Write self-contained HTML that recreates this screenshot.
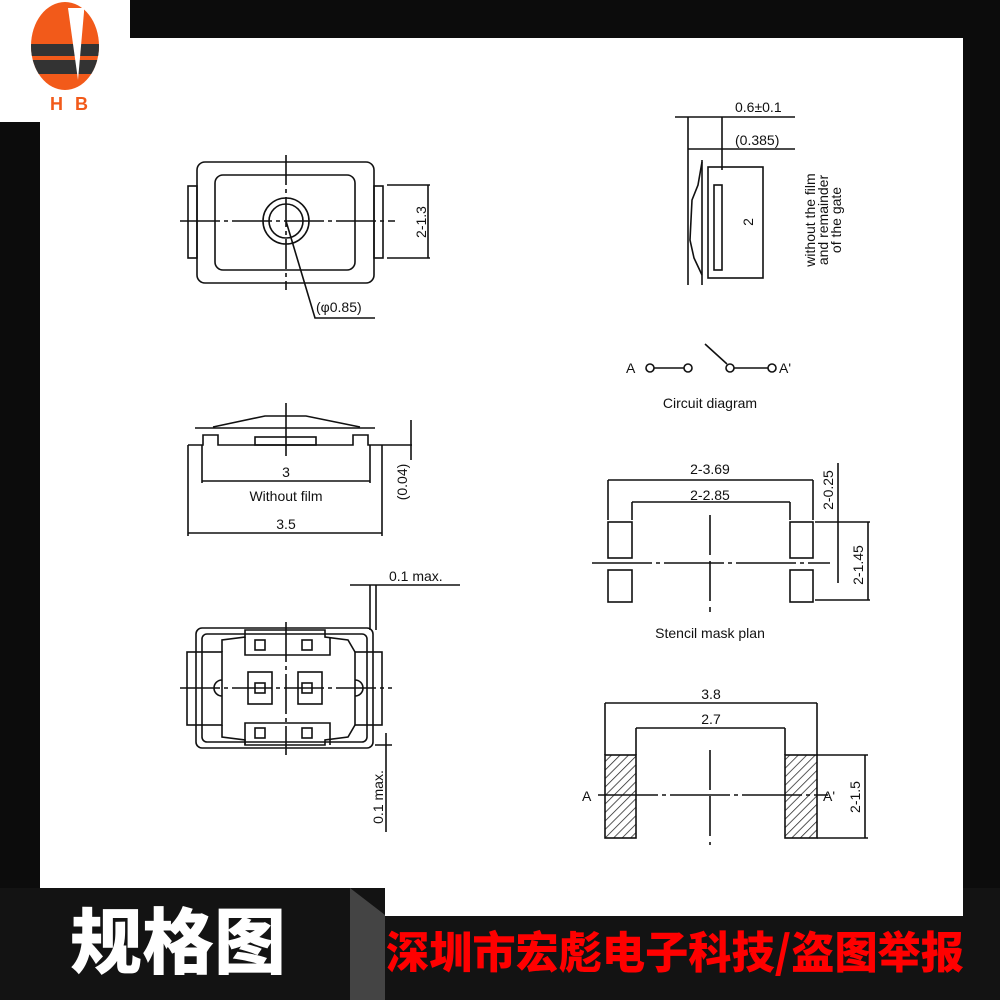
<!DOCTYPE html>
<html><head><meta charset="utf-8"><style>
body{margin:0;background:#0c0c0c;}
svg{display:block}
text{font-family:"Liberation Sans",sans-serif;fill:#111}
</style></head><body>
<svg width="1000" height="1000" viewBox="0 0 1000 1000" xmlns="http://www.w3.org/2000/svg">
<defs>
<pattern id="h" width="6" height="6" patternUnits="userSpaceOnUse" patternTransform="rotate(45)">
<line x1="0" y1="0" x2="0" y2="6" stroke="#222" stroke-width="1.5"/>
</pattern>
<clipPath id="lc"><ellipse cx="65" cy="46" rx="34" ry="44"/></clipPath>
</defs>
<rect width="1000" height="1000" fill="#0c0c0c"/>
<rect x="0" y="888" width="1000" height="112" fill="#131313"/>
<rect x="40" y="38" width="923" height="850" fill="#fff"/>
<rect x="385" y="880" width="578" height="36" fill="#fff"/>
<rect x="0" y="0" width="130" height="122" fill="#fff"/>
<polygon points="350,888 385,915 385,1000 350,1000" fill="#444"/>
<text x="70" y="968" style="font-family:'Noto Sans CJK SC',sans-serif;font-weight:900;font-size:72px;fill:#fff">规格图</text>
<text x="386" y="968" textLength="578" lengthAdjust="spacingAndGlyphs" style="font-family:'Noto Sans CJK SC',sans-serif;font-weight:900;font-size:44px;fill:#f00">深圳市宏彪电子科技/盗图举报</text>
<!-- logo -->
<g clip-path="url(#lc)">
<rect x="30" y="0" width="70" height="95" fill="#f25a1a"/>
<rect x="30" y="44" width="70" height="12" fill="#333"/>
<rect x="30" y="60" width="70" height="14" fill="#333"/>
</g>
<polygon points="68,8 84,8 84,12 78,80" fill="#fff"/>
<text x="50" y="110" style="font-size:18px;font-weight:bold;fill:#f25a1a;letter-spacing:12px">HB</text>

<g fill="none" stroke="#111" stroke-width="1.6">
<rect x="197" y="162" width="177" height="121" rx="8"/>
<rect x="215" y="175" width="140" height="95" rx="8"/>
<rect x="188" y="186" width="9" height="72"/>
<rect x="374" y="186" width="9" height="72"/>
<circle cx="286" cy="221" r="23"/>
<circle cx="286" cy="221" r="17"/>
<line x1="286" y1="155" x2="286" y2="290" stroke-dasharray="30,4,4,4"/>
<line x1="180" y1="221" x2="395" y2="221" stroke-dasharray="40,4,4,4"/>
<line x1="387" y1="185" x2="430" y2="185"/><line x1="387" y1="258" x2="430" y2="258"/>
<line x1="428" y1="185" x2="428" y2="258"/>
<polyline points="286,221 315,318 375,318"/>
<line x1="195" y1="428" x2="375" y2="428"/>
<polyline points="213,427 265,416 306,416 360,427"/>
<polyline points="188,445 203,445 203,435 218,435 218,445 353,445 353,435 368,435 368,445 412,445"/>
<rect x="255" y="437" width="61" height="8"/>
<line x1="286" y1="403" x2="286" y2="456"/>
<line x1="202" y1="445" x2="202" y2="483"/><line x1="370" y1="445" x2="370" y2="483"/>
<line x1="202" y1="481" x2="370" y2="481"/>
<line x1="188" y1="445" x2="188" y2="536"/><line x1="382" y1="445" x2="382" y2="536"/>
<line x1="188" y1="533" x2="382" y2="533"/>
<line x1="411" y1="420" x2="411" y2="460"/>
<rect x="196" y="628" width="177" height="120" rx="6"/>
<rect x="202" y="634" width="165" height="108" rx="5"/>
<rect x="187" y="652" width="35" height="73"/>
<rect x="355" y="652" width="27" height="73"/>
<path d="M222 680 a8 8 0 0 0 0 16"/><path d="M355 680 a8 8 0 0 1 0 16"/>
<polyline points="222,652 222,640 245,637 245,630 325,630 325,637 348,640 355,652"/>
<polyline points="222,725 222,737 245,740 245,745 325,745 325,740 348,737 355,725"/>
<polyline points="245,637 245,655 330,655 330,637"/>
<polyline points="245,745 245,723 330,723 330,745"/>
<rect x="248" y="672" width="24" height="32"/><rect x="298" y="672" width="24" height="32"/>
<rect x="255" y="640" width="10" height="10"/><rect x="302" y="640" width="10" height="10"/>
<rect x="255" y="728" width="10" height="10"/><rect x="302" y="728" width="10" height="10"/>
<rect x="255" y="683" width="10" height="10"/><rect x="302" y="683" width="10" height="10"/>
<line x1="286" y1="622" x2="286" y2="755" stroke-dasharray="40,4,4,4"/>
<line x1="180" y1="688" x2="392" y2="688" stroke-dasharray="40,4,4,4"/>
<line x1="350" y1="585" x2="460" y2="585"/>
<line x1="370" y1="585" x2="370" y2="630"/><line x1="376" y1="585" x2="376" y2="630"/>
<line x1="386" y1="733" x2="386" y2="832"/>
<line x1="375" y1="745" x2="392" y2="745"/>
<line x1="675" y1="117" x2="795" y2="117"/>
<line x1="688" y1="149" x2="795" y2="149"/>
<line x1="688" y1="117" x2="688" y2="285"/>
<line x1="722" y1="117" x2="722" y2="170"/>
<rect x="708" y="167" width="55" height="111"/>
<rect x="714" y="185" width="8" height="85"/>
<line x1="702" y1="160" x2="702" y2="285"/>
<polyline points="702,162 698,185 692,200 690,240 694,258 702,275"/>
<circle cx="650" cy="368" r="4"/><circle cx="688" cy="368" r="4"/>
<line x1="654" y1="368" x2="684" y2="368"/>
<line x1="705" y1="344" x2="727" y2="364"/>
<circle cx="730" cy="368" r="4"/><circle cx="772" cy="368" r="4"/>
<line x1="734" y1="368" x2="768" y2="368"/>
<line x1="608" y1="480" x2="813" y2="480"/>
<line x1="608" y1="480" x2="608" y2="520"/><line x1="813" y1="480" x2="813" y2="520"/>
<line x1="632" y1="502" x2="790" y2="502"/>
<line x1="632" y1="502" x2="632" y2="520"/><line x1="790" y1="502" x2="790" y2="520"/>
<rect x="608" y="522" width="24" height="36"/><rect x="790" y="522" width="23" height="36"/>
<rect x="608" y="570" width="24" height="32"/><rect x="790" y="570" width="23" height="32"/>
<line x1="592" y1="563" x2="830" y2="563" stroke-dasharray="60,4,4,4"/>
<line x1="710" y1="515" x2="710" y2="612" stroke-dasharray="40,6"/>
<line x1="838" y1="463" x2="838" y2="583"/>
<line x1="815" y1="522" x2="870" y2="522"/><line x1="815" y1="600" x2="870" y2="600"/>
<line x1="868" y1="522" x2="868" y2="600"/>
<line x1="605" y1="703" x2="817" y2="703"/>
<line x1="605" y1="703" x2="605" y2="755"/><line x1="817" y1="703" x2="817" y2="755"/>
<line x1="636" y1="728" x2="785" y2="728"/>
<line x1="636" y1="728" x2="636" y2="755"/><line x1="785" y1="728" x2="785" y2="755"/>
<rect x="605" y="755" width="31" height="83" fill="url(#h)"/>
<rect x="785" y="755" width="32" height="83" fill="url(#h)"/>
<line x1="598" y1="795" x2="828" y2="795" stroke-dasharray="60,4,4,4"/>
<line x1="710" y1="750" x2="710" y2="845" stroke-dasharray="40,6"/>
<line x1="817" y1="755" x2="868" y2="755"/><line x1="817" y1="838" x2="868" y2="838"/>
<line x1="865" y1="755" x2="865" y2="838"/>
</g>
<g style="font-size:14px">
<text x="421" y="222" text-anchor="middle" transform="rotate(-90 421 222)" dy="5">2-1.3</text>
<text x="316" y="312">(φ0.85)</text>
<text x="286" y="477" text-anchor="middle">3</text>
<text x="286" y="501" text-anchor="middle">Without film</text>
<text x="286" y="529" text-anchor="middle">3.5</text>
<text x="402" y="482" text-anchor="middle" transform="rotate(-90 402 482)" dy="5">(0.04)</text>
<text x="389" y="581">0.1 max.</text>
<text x="378" y="797" text-anchor="middle" transform="rotate(-90 378 797)" dy="5">0.1 max.</text>
<text x="735" y="112">0.6±0.1</text>
<text x="735" y="145">(0.385)</text>
<text x="748" y="222" text-anchor="middle" transform="rotate(-90 748 222)" dy="5">2</text>
<text x="810" y="220" text-anchor="middle" transform="rotate(-90 810 220)" dy="5">without the film</text>
<text x="823" y="220" text-anchor="middle" transform="rotate(-90 823 220)" dy="5">and remainder</text>
<text x="836" y="220" text-anchor="middle" transform="rotate(-90 836 220)" dy="5">of the gate</text>
<text x="626" y="373">A</text>
<text x="779" y="373">A'</text>
<text x="710" y="408" text-anchor="middle">Circuit diagram</text>
<text x="710" y="474" text-anchor="middle">2-3.69</text>
<text x="710" y="500" text-anchor="middle">2-2.85</text>
<text x="828" y="490" text-anchor="middle" transform="rotate(-90 828 490)" dy="5">2-0.25</text>
<text x="858" y="565" text-anchor="middle" transform="rotate(-90 858 565)" dy="5">2-1.45</text>
<text x="710" y="638" text-anchor="middle">Stencil mask plan</text>
<text x="711" y="699" text-anchor="middle">3.8</text>
<text x="711" y="724" text-anchor="middle">2.7</text>
<text x="582" y="801">A</text>
<text x="823" y="801">A'</text>
<text x="855" y="797" text-anchor="middle" transform="rotate(-90 855 797)" dy="5">2-1.5</text>
</g>
</svg>
</body></html>
